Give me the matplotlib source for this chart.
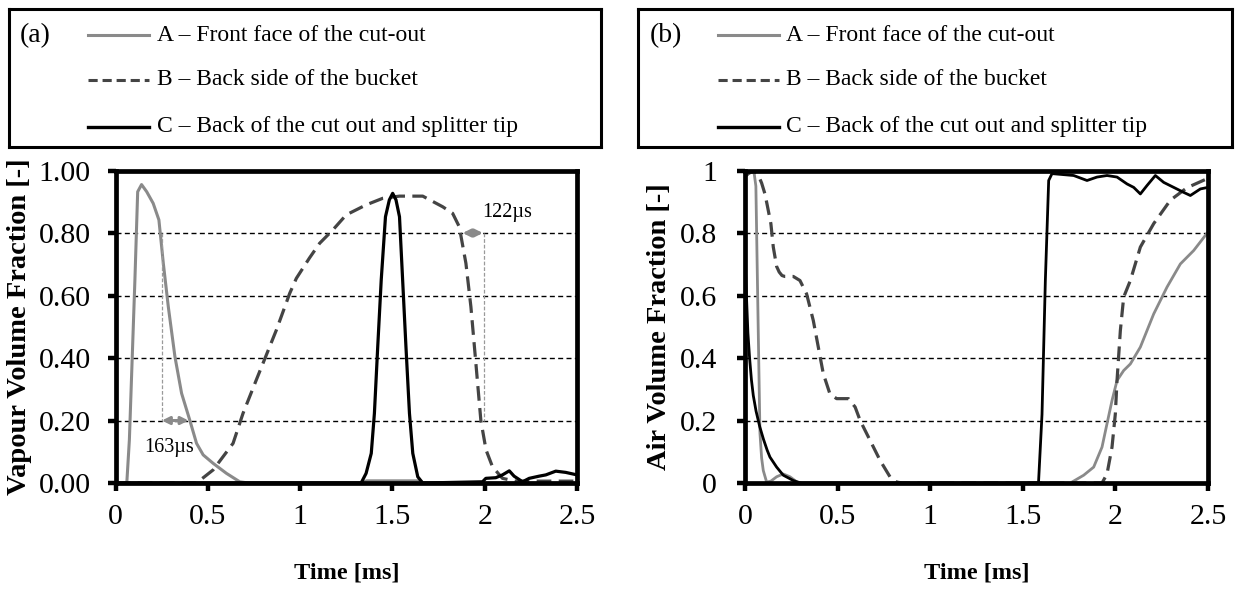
import numpy as np
import matplotlib
matplotlib.use("Agg")
import matplotlib.pyplot as plt
from matplotlib.ticker import FixedLocator

plt.rcParams['font.family'] = ['Liberation Serif', 'DejaVu Serif']

# Series labels
labels = ["A \u2013 Front face of the cut-out",
          "B \u2013 Back side of the bucket",
          "C \u2013 Back of the cut out and splitter tip"]

# (a) vapour volume fraction, time in ms
a_A_t = [0, 0.06, 0.074, 0.104, 0.119, 0.14, 0.168, 0.203, 0.234, 0.258, 0.285, 0.321,
         0.357, 0.402, 0.438, 0.474, 0.528, 0.6, 0.672, 0.72, 1.33, 1.36, 1.64, 1.67, 2.5]
a_A_v = [0, 0, 0.138, 0.65, 0.932, 0.955, 0.932, 0.895, 0.842, 0.703, 0.564, 0.404,
         0.287, 0.2, 0.127, 0.09, 0.063, 0.031, 0.004, 0, 0, 0.007, 0.007, 0, 0]

a_B_t = [0, 0.438, 0.528, 0.636, 0.69, 0.762, 0.871, 0.943, 0.979, 1.05, 1.105, 1.177,
         1.249, 1.357, 1.447, 1.538, 1.664, 1.772, 1.826, 1.862, 1.898, 1.925, 1.952,
         1.979, 2.007, 2.042, 2.096, 2.169, 2.5]
a_B_v = [0, 0, 0.042, 0.127, 0.223, 0.33, 0.49, 0.607, 0.655, 0.72, 0.767, 0.81,
         0.858, 0.89, 0.911, 0.918, 0.918, 0.884, 0.863, 0.82, 0.703, 0.564, 0.383,
         0.2, 0.106, 0.052, 0.015, 0.006, 0.006]

a_C_t = [0, 1.33, 1.357, 1.385, 1.402, 1.42, 1.439, 1.462, 1.483, 1.501, 1.519, 1.538,
         1.555, 1.573, 1.592, 1.61, 1.637, 1.664, 1.988, 2.006, 2.06, 2.096, 2.133,
         2.159, 2.205, 2.241, 2.295, 2.331, 2.385, 2.439, 2.5]
a_C_v = [0, 0, 0.031, 0.095, 0.223, 0.436, 0.65, 0.852, 0.906, 0.927, 0.906, 0.852,
         0.65, 0.436, 0.223, 0.095, 0.02, 0, 0.004, 0.015, 0.017, 0.026, 0.039,
         0.022, 0.004, 0.015, 0.022, 0.026, 0.038, 0.034, 0.026]

# (b) air volume fraction
b_A_t = [0, 0.03, 0.05, 0.059, 0.07, 0.081, 0.09, 0.099, 0.117, 0.14, 0.171, 0.207,
         0.243, 0.279, 0.31, 1.757, 1.829, 1.883, 1.928, 1.955, 1.982, 2.009, 2.045,
         2.081, 2.135, 2.207, 2.279, 2.351, 2.423, 2.5]
b_A_v = [0.99, 1.0, 0.99, 0.95, 0.55, 0.16, 0.08, 0.04, 0.003, 0.006, 0.02, 0.029,
         0.02, 0.004, 0, 0, 0.025, 0.051, 0.115, 0.19, 0.264, 0.328, 0.36,
         0.381, 0.435, 0.541, 0.627, 0.701, 0.744, 0.803]

b_B_t = [0, 0.018, 0.05, 0.072, 0.09, 0.108, 0.12, 0.14, 0.153, 0.171, 0.185, 0.2,
         0.215, 0.261, 0.297, 0.333, 0.369, 0.396, 0.423, 0.459, 0.495, 0.559, 0.595,
         0.622, 0.676, 0.73, 0.784, 0.82, 0.85, 1.928, 1.955, 1.982, 2.0, 2.009, 2.027,
         2.045, 2.081, 2.135, 2.207, 2.297, 2.387, 2.5]
b_B_v = [0.98, 0.99, 1.0, 0.985, 0.96, 0.925, 0.89, 0.83, 0.755, 0.693, 0.675, 0.664,
         0.661, 0.661, 0.648, 0.605, 0.52, 0.435, 0.35, 0.285, 0.27, 0.27, 0.243,
         0.2, 0.136, 0.072, 0.019, 0.003, 0, 0, 0.029, 0.115, 0.222, 0.328, 0.488,
         0.595, 0.648, 0.755, 0.83, 0.905, 0.945, 0.975]

b_C_t = [0, 0.008, 0.016, 0.025, 0.035, 0.045, 0.06, 0.08, 0.1, 0.12, 0.135, 0.171,
         0.207, 0.261, 0.3, 1.585, 1.604, 1.622, 1.64, 1.658, 1.775, 1.847, 1.901,
         1.955, 2.009, 2.063, 2.099, 2.135, 2.171, 2.216, 2.261, 2.315, 2.369, 2.405,
         2.459, 2.5]
b_C_v = [0.73, 0.6, 0.48, 0.4, 0.33, 0.28, 0.23, 0.18, 0.14, 0.105, 0.083, 0.051,
         0.025, 0.008, 0, 0, 0.22, 0.648, 0.968, 0.99, 0.984, 0.968, 0.979,
         0.984, 0.979, 0.957, 0.946, 0.925, 0.952, 0.984, 0.962, 0.946, 0.93, 0.92,
         0.941, 0.946]

# duration markers in (a): (x start, x end, arrow level, dotted x, dotted from, dotted to)
mark_163 = (0.25, 0.395, 0.2, 0.25, 0.8, 0.2)
mark_122 = (1.88, 1.99, 0.8, 1.997, 0.8, 0.2)
mark_163_text = (0.29, 0.115, "163\u00b5s")
mark_122_text = (2.12, 0.865, "122\u00b5s")

x_ticks = [0, 0.5, 1, 1.5, 2, 2.5]
x_ticklabels = ["0", "0.5", "1", "1.5", "2", "2.5"]
y_ticks = [0, 0.2, 0.4, 0.6, 0.8, 1.0]
a_yticklabels = ["0.00", "0.20", "0.40", "0.60", "0.80", "1.00"]
b_yticklabels = ["0", "0.2", "0.4", "0.6", "0.8", "1"]

col_A = '#8a8a8a'
col_B = '#444444'
col_C = '#000000'
dash_B = (0, (4.6, 2.3))

fig = plt.figure(figsize=(12.35, 5.91), dpi=100)


def style_axes(ax, yticklabels, ylabel, ypad, ylab_x):
    ax.set_xlim(0, 2.5)
    ax.set_ylim(0, 1)
    ax.xaxis.set_major_locator(FixedLocator(x_ticks))
    ax.set_xticklabels(x_ticklabels)
    ax.yaxis.set_major_locator(FixedLocator(y_ticks))
    ax.set_yticklabels(yticklabels)
    for s in ax.spines.values():
        s.set_linewidth(3.4)
        s.set_color('black')
    ax.tick_params(axis='both', direction='out', length=6, width=3.2, labelsize=21.5)
    ax.tick_params(axis='y', pad=ypad)
    ax.tick_params(axis='x', pad=9)
    for yv in y_ticks[1:-1]:
        ax.axhline(yv, color='black', lw=1.0, ls=(0, (3.6, 2.4)), zorder=1)
    ax.set_xlabel("Time [ms]", fontsize=17.5, fontweight='bold')
    ax.xaxis.set_label_coords(0.5, -0.255)
    ax.set_ylabel(ylabel, fontsize=20.5, fontweight='bold')
    ax.yaxis.set_label_coords(ylab_x, 0.5)


def draw_legend_box(rect, tag):
    lx = fig.add_axes(rect)
    lx.set_xlim(0, 1)
    lx.set_ylim(0, 1)
    lx.set_xticks([])
    lx.set_yticks([])
    for s in lx.spines.values():
        s.set_linewidth(2.2)
    rows = [0.81, 0.486, 0.145]
    styles = [dict(color=col_A, lw=2.2, ls='-'),
              dict(color=col_B, lw=2.2, ls=(0, (3.0, 1.6))),
              dict(color=col_C, lw=2.4, ls='-')]
    lx.text(0.019, rows[0], tag, fontsize=20, va='center', ha='left')
    for r, st, lab in zip(rows, styles, labels):
        lx.plot([0.134, 0.237], [r, r], **st)
        lx.text(0.25, r, lab, fontsize=17, va='center', ha='left')


# panel (a)
ax_a = fig.add_axes([0.0937, 0.1827, 0.3735, 0.5288])
ax_a.plot(a_A_t, a_A_v, color=col_A, lw=2.2, zorder=2)
ax_a.plot(a_B_t, a_B_v, color=col_B, lw=2.3, ls=dash_B, zorder=2)
ax_a.plot(a_C_t, a_C_v, color=col_C, lw=2.3, zorder=2)
for m in (mark_163, mark_122):
    ax_a.plot([m[3], m[3]], [m[4], m[5]], color='#9a9a9a', lw=0.9, ls=(0, (3, 1.5)), zorder=2)
    ax_a.annotate('', xy=(m[1], m[2]), xytext=(m[0], m[2]),
                  arrowprops=dict(arrowstyle='<|-|>', color=col_A, lw=2.2,
                                  mutation_scale=11, shrinkA=0, shrinkB=0), zorder=3)
for tx in (mark_163_text, mark_122_text):
    ax_a.text(tx[0], tx[1], tx[2], fontsize=14.5, ha='center', va='center')
style_axes(ax_a, a_yticklabels, "Vapour Volume Fraction [-]", 12, -0.181)

# panel (b)
ax_b = fig.add_axes([0.6032, 0.1827, 0.3749, 0.5288])
ax_b.plot(b_A_t, b_A_v, color=col_A, lw=2.0, zorder=2)
ax_b.plot(b_B_t, b_B_v, color=col_B, lw=2.3, ls=dash_B, zorder=2)
ax_b.plot(b_C_t, b_C_v, color=col_C, lw=2.0, zorder=2)
style_axes(ax_b, b_yticklabels, "Air Volume Fraction [-]", 14, -0.158)

# legend boxes
draw_legend_box([9 / 1235, 1 - 147 / 591, 592 / 1235, 138 / 591], "(a)")
draw_legend_box([638 / 1235, 1 - 147 / 591, 594 / 1235, 138 / 591], "(b)")

fig.savefig("out.png", dpi=100)
